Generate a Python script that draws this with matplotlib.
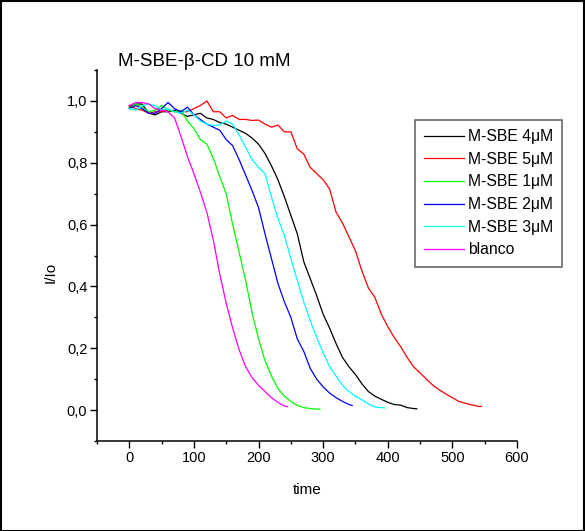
import matplotlib
matplotlib.use("Agg")
import matplotlib.pyplot as plt
from matplotlib.ticker import MultipleLocator, FuncFormatter
from matplotlib.patches import Rectangle

plt.rcParams['font.family'] = ['Liberation Sans', 'DejaVu Sans']

# ---- data ----
t_4uM = [0, 10, 20, 30, 40, 50, 60, 70, 80, 90, 100, 110, 120, 130, 140, 150, 160, 170, 180, 190,
         200, 210, 220, 230, 240, 250, 260, 270, 280, 290, 300, 310, 320, 330, 340, 350, 360, 370,
         380, 390, 400, 410, 420, 430, 440, 445]
y_4uM = [0.98, 0.99, 0.99, 0.96, 0.955, 0.965, 0.965, 0.97, 0.96, 0.95, 0.955, 0.96, 0.945, 0.94,
         0.93, 0.925, 0.915, 0.905, 0.895, 0.88, 0.86, 0.83, 0.79, 0.745, 0.69, 0.63, 0.57, 0.48,
         0.425, 0.37, 0.31, 0.265, 0.215, 0.17, 0.14, 0.115, 0.085, 0.06, 0.045, 0.035, 0.025,
         0.018, 0.016, 0.008, 0.005, 0.004]

t_5uM = [0, 10, 20, 30, 40, 50, 60, 70, 80, 90, 100, 110, 120, 130, 140, 150, 160, 170, 180, 190,
         200, 210, 220, 230, 240, 250, 260, 270, 280, 290, 300, 310, 320, 330, 340, 350, 360, 370,
         380, 390, 400, 410, 420, 430, 440, 450, 460, 470, 480, 490, 500, 510, 520, 530, 540, 545]
y_5uM = [0.985, 0.975, 0.97, 0.96, 0.965, 0.965, 0.97, 0.965, 0.965, 0.965, 0.975, 0.985, 1.0,
         0.965, 0.965, 0.945, 0.953, 0.94, 0.94, 0.937, 0.938, 0.925, 0.915, 0.922, 0.9, 0.9,
         0.845, 0.828, 0.785, 0.765, 0.745, 0.715, 0.64, 0.605, 0.56, 0.515, 0.45, 0.395, 0.365,
         0.31, 0.27, 0.235, 0.205, 0.17, 0.14, 0.12, 0.1, 0.08, 0.065, 0.052, 0.04, 0.028, 0.022,
         0.017, 0.012, 0.012]

t_1uM = [0, 10, 20, 30, 40, 50, 60, 70, 80, 90, 100, 110, 120, 130, 140, 150, 160, 170, 180, 190,
         200, 210, 220, 230, 240, 250, 260, 270, 280, 290, 295]
y_1uM = [0.975, 0.99, 0.98, 0.965, 0.97, 0.985, 0.97, 0.965, 0.97, 0.935, 0.91, 0.875, 0.86, 0.815,
         0.755, 0.7, 0.6, 0.51, 0.42, 0.315, 0.23, 0.16, 0.11, 0.07, 0.045, 0.028, 0.015, 0.008,
         0.005, 0.003, 0.003]

t_2uM = [0, 10, 20, 30, 40, 50, 60, 70, 80, 90, 100, 110, 120, 130, 140, 150, 160, 170, 180, 190,
         200, 210, 220, 230, 240, 250, 260, 270, 280, 290, 300, 310, 320, 330, 340, 345]
y_2uM = [0.975, 0.985, 0.975, 0.96, 0.96, 0.975, 0.995, 0.975, 0.965, 0.98, 0.955, 0.94, 0.925,
         0.915, 0.905, 0.875, 0.855, 0.81, 0.76, 0.71, 0.655, 0.57, 0.49, 0.41, 0.35, 0.3, 0.23,
         0.19, 0.135, 0.1, 0.075, 0.055, 0.04, 0.028, 0.018, 0.015]

t_3uM = [0, 10, 20, 30, 40, 50, 60, 70, 80, 90, 100, 110, 120, 130, 140, 150, 160, 170, 180, 190,
         200, 210, 220, 230, 240, 250, 260, 270, 280, 290, 300, 310, 320, 330, 340, 350, 360, 370,
         380, 390, 395]
y_3uM = [0.975, 0.97, 0.985, 0.99, 0.985, 0.97, 0.975, 0.965, 0.96, 0.97, 0.955, 0.935, 0.925,
         0.92, 0.922, 0.935, 0.925, 0.89, 0.85, 0.81, 0.785, 0.765, 0.69, 0.62, 0.565, 0.49, 0.42,
         0.35, 0.29, 0.235, 0.185, 0.14, 0.11, 0.08, 0.06, 0.045, 0.033, 0.02, 0.01, 0.008, 0.007]

t_blanco = [0, 10, 20, 30, 40, 50, 60, 70, 80, 90, 100, 110, 120, 130, 140, 150, 160, 170, 180,
            190, 200, 210, 220, 230, 240, 245]
y_blanco = [0.985, 0.995, 0.995, 0.99, 0.975, 0.97, 0.965, 0.945, 0.885, 0.82, 0.765, 0.705, 0.64,
            0.55, 0.44, 0.345, 0.265, 0.195, 0.14, 0.105, 0.08, 0.06, 0.04, 0.025, 0.013, 0.011]

series = [
    (t_4uM, y_4uM, 'M-SBE 4\u03bcM', '#000000'),
    (t_5uM, y_5uM, 'M-SBE 5\u03bcM', '#ff0000'),
    (t_1uM, y_1uM, 'M-SBE 1\u03bcM', '#00ff00'),
    (t_2uM, y_2uM, 'M-SBE 2\u03bcM', '#0000ff'),
    (t_3uM, y_3uM, 'M-SBE 3\u03bcM', '#00ffff'),
    (t_blanco, y_blanco, 'blanco', '#ff00ff'),
]

W, H = 585, 531
fig = plt.figure(figsize=(W / 100, H / 100), dpi=100)
ax = fig.add_axes([97 / W, 1 - 441 / H, (517 - 97) / W, (441 - 70) / H])

handles = []
for t, y, lab, col in series:
    h, = ax.plot(t, y, color=col, lw=0.9, label=lab)
    handles.append(h)

ax.set_xlim(-50, 600)
ax.set_ylim(-0.1, 1.1)
for s in ['top', 'right']:
    ax.spines[s].set_visible(False)
for s in ['left', 'bottom']:
    ax.spines[s].set_linewidth(1.1)

ax.xaxis.set_major_locator(MultipleLocator(100))
ax.xaxis.set_minor_locator(MultipleLocator(50))
ax.yaxis.set_major_locator(MultipleLocator(0.2))
ax.yaxis.set_minor_locator(MultipleLocator(0.1))
ax.yaxis.set_major_formatter(FuncFormatter(lambda v, p: f"{v:.1f}".replace('.', ',').replace('-0,0', '0,0')))
ax.tick_params(which='major', direction='out', length=5, width=1.0, labelsize=10.5, pad=2)
ax.tick_params(which='minor', direction='out', length=2.5, width=1.0)

fig.text(51 / W, 1 - 272 / H, 'I/Io', rotation=90, ha='center', va='center', fontsize=11)
fig.text(307 / W, 1 - 490 / H, 'time', ha='center', va='center', fontsize=11)
fig.text(118 / W, 1 - 62 / H, 'M-SBE-\u03b2-CD 10 mM', ha='left', va='center', fontsize=13.5)

leg = fig.legend(handles=handles, loc='upper left', bbox_to_anchor=(415 / W, 1 - 120 / H),
                 fontsize=11.3, frameon=True, fancybox=False, edgecolor='#333333',
                 handlelength=2.5, handletextpad=0.25, labelspacing=0.48, borderpad=0.6,
                 borderaxespad=0)
leg.get_frame().set_linewidth(1.1)

fig.patches.append(Rectangle((0.5 / W, 0.5 / H), 1 - 1.5 / W, 1 - 1.5 / H, transform=fig.transFigure,
                             fill=False, edgecolor='black', lw=1.5))

fig.savefig('out.png', dpi=100)
